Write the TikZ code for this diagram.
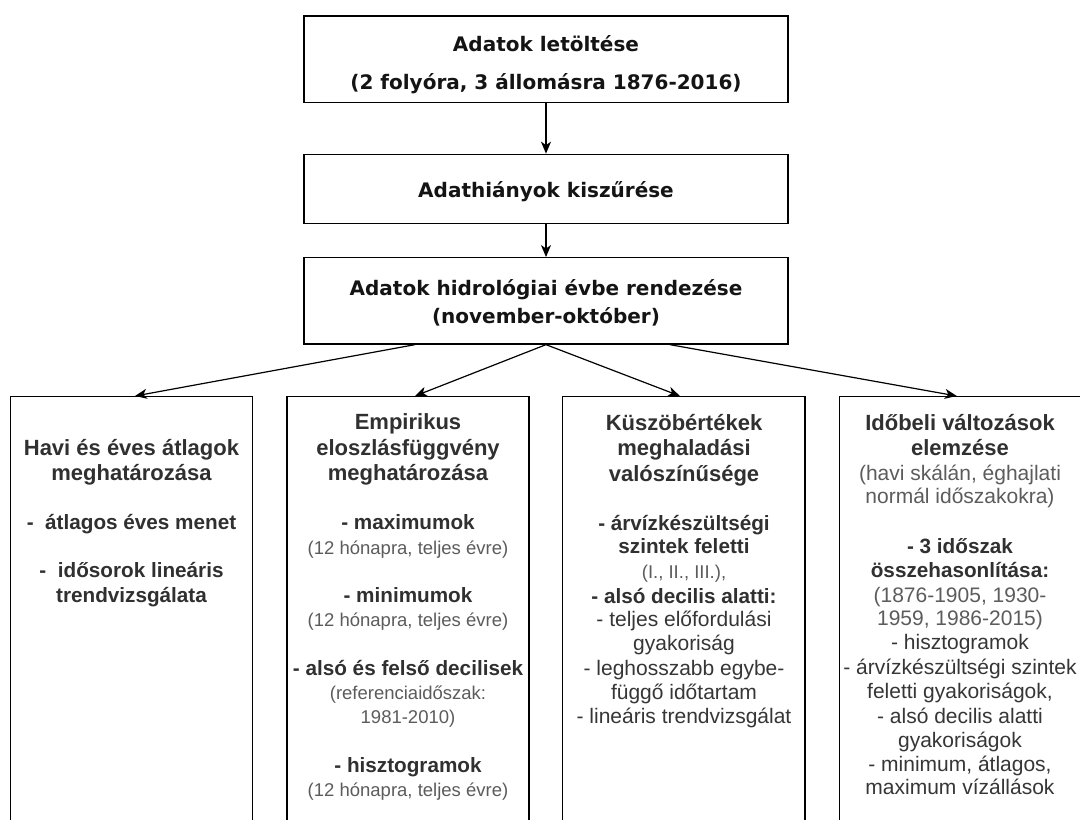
\documentclass[tikz,border=0pt]{standalone}
\usepackage{fontspec}
\setmainfont{Liberation Sans}
\newfontfamily\topfont{DejaVu Sans}
\usetikzlibrary{arrows.meta,calc}
\definecolor{tc}{HTML}{141414}
\definecolor{hc}{HTML}{303030}
\definecolor{rc}{HTML}{363636}
\definecolor{gc}{HTML}{5C5C5C}
\begin{document}
\begin{tikzpicture}[x=1pt,y=-1pt,
  box/.style={draw=black,line width=1.3pt,fill=white,inner sep=0pt,rectangle},
  topbox/.style={box,minimum width=484pt},
  lowbox/.style={box,minimum height=444pt,anchor=north},
  ttx/.style={font=\topfont\bfseries\fontsize{20}{24}\selectfont,text=tc,inner sep=0pt,anchor=base},
  hd/.style={font=\bfseries\fontsize{22}{26}\selectfont,text=hc,inner sep=0pt,anchor=base},
  bb/.style={font=\bfseries\fontsize{20.7}{24}\selectfont,text=hc,inner sep=0pt,anchor=base},
  rg/.style={font=\fontsize{21}{24}\selectfont,text=rc,inner sep=0pt,anchor=base},
  gr/.style={font=\fontsize{18.5}{22}\selectfont,text=gc,inner sep=0pt,anchor=base},
  gl/.style={font=\fontsize{21}{24}\selectfont,text=gc,inner sep=0pt,anchor=base},
  arr/.style={draw=black,line width=1.2pt,-{Stealth[length=12pt,width=10pt,inset=3.5pt]}}]
\useasboundingbox (0,0) rectangle (1080,820);
\clip (0,0) rectangle (1080,820);
\fill[white] (0,0) rectangle (1080,820);

% top chain
\node[topbox,minimum height=86.3pt] (t1) at (546,59.15) {};
\node[topbox,minimum height=69pt] (t2) at (546,188.8) {};
\node[topbox,minimum height=86.3pt] (t3) at (546,300.85) {};
\node[ttx] (t1a) at (546,51) {Adatok letöltése};
\node[ttx] (t1b) at (546,89) {(2 folyóra, 3 állomásra 1876-2016)};
\node[ttx] (t2a) at (546,197.5) {Adathiányok kiszűrése};
\node[ttx] (t3a) at (546,295.5) {Adatok hidrológiai évbe rendezése};
\node[ttx] (t3b) at (546,323.5) {(november-október)};

% lower boxes
\node[lowbox,minimum width=241.6pt] (b1) at (131.5,396) {};
\node[lowbox,minimum width=242pt] (b2) at (408,396) {};
\node[lowbox,minimum width=242.3pt] (b3) at (683.9,396) {};
\node[lowbox,minimum width=243pt] (b4) at (960.8,396) {};

% arrows
\draw[arr] (t1) -- (t2);
\draw[arr] (t2) -- (t3);
\draw[arr] ($(t3.south)+(-131,0)$) -- ($(b1.north)+(3.5,0)$);
\draw[arr] (t3.south) -- ($(b2.north)+(7,0)$);
\draw[arr] (t3.south) -- ($(b3.north)+(-4,0)$);
\draw[arr] ($(t3.south)+(124,0)$) -- ($(b4.north)+(-4,0)$);

% box 1
\node[hd] (a1) at (131.5,455.8) {Havi és éves átlagok};
\node[hd] (a2) at (131.5,480.8) {meghatározása};
\node[bb] (a3) at (131.5,529.7) {-\ \ átlagos éves menet};
\node[bb] (a4) at (131.5,577.7) {-\ \ idősorok lineáris};
\node[bb] (a5) at (131.5,602) {trendvizsgálata};

% box 2
\node[hd] (c1) at (408,429.2) {Empirikus};
\node[hd] (c2) at (408,455.8) {eloszlásfüggvény};
\node[hd] (c3) at (408,480.8) {meghatározása};
\node[bb] (c4) at (408,529.7) {- maximumok};
\node[gr] (c5) at (408,554.3) {(12 hónapra, teljes évre)};
\node[bb] (c6) at (408,602) {- minimumok};
\node[gr] (c7) at (408,626.7) {(12 hónapra, teljes évre)};
\node[bb] (c8) at (408,675.3) {- alsó és felső decilisek};
\node[gr] (c9) at (408,699.3) {(referenciaidőszak:};
\node[gr] (c10) at (408,723.7) {1981-2010)};
\node[bb] (c11) at (408,772) {- hisztogramok};
\node[gr] (c12) at (408,796) {(12 hónapra, teljes évre)};

% box 3
\node[hd] (d1) at (684,430.2) {Küszöbértékek};
\node[hd] (d2) at (684,455.8) {meghaladási};
\node[hd] (d3) at (684,481.5) {valószínűsége};
\node[bb] (d4) at (684,530.3) {- árvízkészültségi};
\node[bb] (d5) at (684,553.7) {szintek feletti};
\node[gr] (d6) at (684,578.7) {(I., II., III.),};
\node[bb] (d7) at (684,603.7) {- alsó decilis alatti:};
\node[rg] (d8) at (684,626.3) {- teljes előfordulási};
\node[rg] (d9) at (684,650.3) {gyakoriság};
\node[rg] (d10) at (684,675.3) {- leghosszabb egybe-};
\node[rg] (d11) at (684,699.7) {függő időtartam};
\node[rg] (d12) at (684,723.7) {- lineáris trendvizsgálat};

% box 4
\node[hd] (e1) at (960,430.8) {Időbeli változások};
\node[hd] (e2) at (960,455.8) {elemzése};
\node[gl] (e3) at (960,480) {(havi skálán, éghajlati};
\node[gl] (e4) at (960,503.5) {normál időszakokra)};
\node[bb] (e5) at (960,553) {- 3 időszak};
\node[bb] (e6) at (960,577.7) {összehasonlítása:};
\node[gl] (e7) at (960,602) {(1876-1905, 1930-};
\node[gl] (e8) at (960,625.3) {1959, 1986-2015)};
\node[rg] (e9) at (960,649.7) {- hisztogramok};
\node[rg] (e10) at (960,674.3) {- árvízkészültségi szintek};
\node[rg] (e11) at (960,698.7) {feletti gyakoriságok,};
\node[rg] (e12) at (960,723) {- alsó decilis alatti};
\node[rg] (e13) at (960,747) {gyakoriságok};
\node[rg] (e14) at (960,771) {- minimum, átlagos,};
\node[rg] (e15) at (960,794.3) {maximum vízállások};
\end{tikzpicture}
\end{document}
